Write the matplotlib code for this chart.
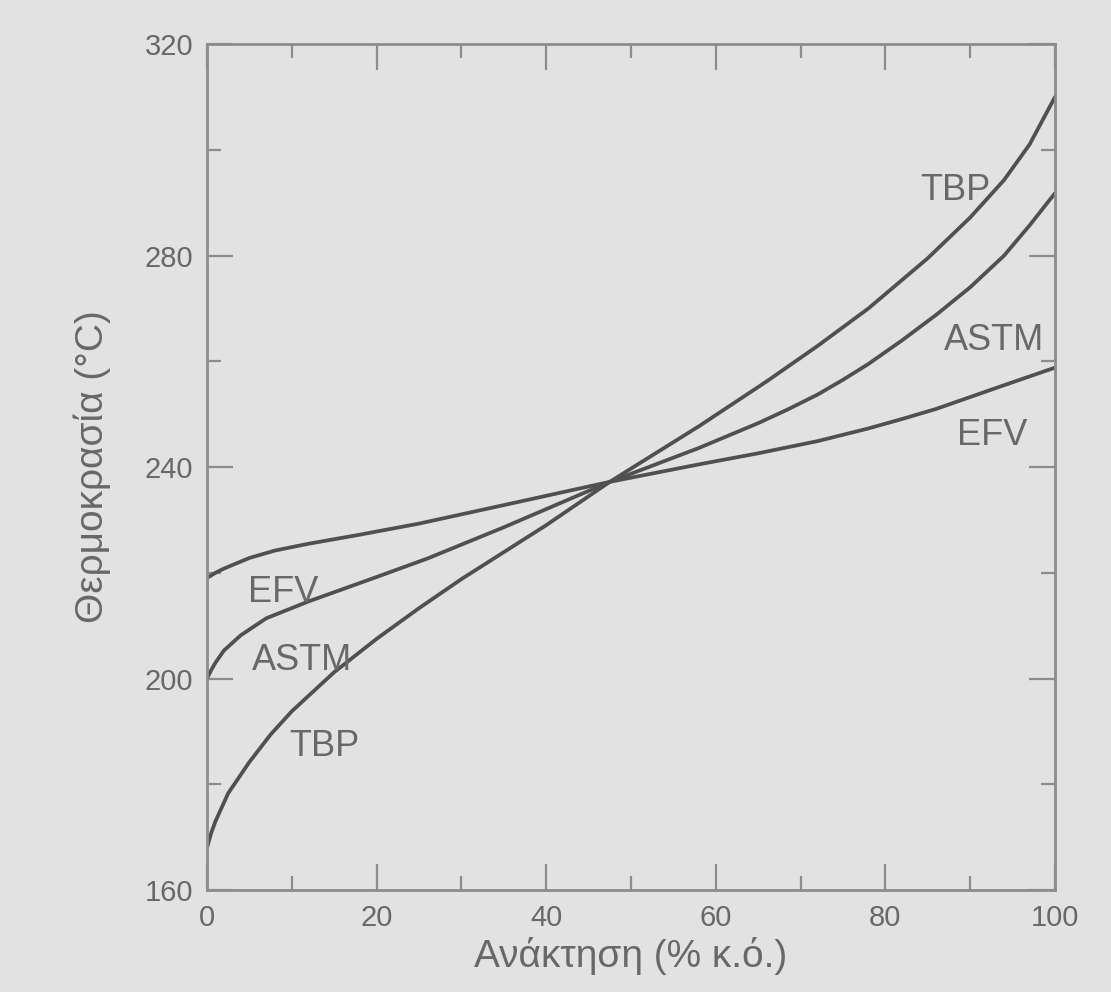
import matplotlib
matplotlib.use("Agg")
import matplotlib.pyplot as plt
from matplotlib.ticker import MultipleLocator

# Distillation curves: recovery (% vol) vs temperature (°C)
x_tbp = [0, 0.5, 1, 2.5, 5, 7.5, 10, 15, 20, 25, 30, 40, 47.5, 58, 66, 72, 78, 85, 90, 94, 97, 100]
t_tbp = [168, 170.8, 173, 178.3, 184.2, 189.4, 193.8, 201.2, 207.5, 213.3, 218.8, 229, 237.2,
         247.7, 256.2, 262.9, 270, 279.5, 287.2, 294.3, 301, 310]

x_astm = [0, 0.5, 1, 2, 4, 7, 12, 20, 26, 35, 47.5, 58, 65, 68.5, 72, 75, 78, 82, 86, 90, 94, 97, 100]
t_astm = [200, 201.6, 203, 205.3, 208.2, 211.4, 214.6, 219.2, 222.7, 228.6, 237.2, 243.6,
          248.3, 250.9, 253.7, 256.5, 259.5, 264, 268.8, 274, 280, 285.7, 291.8]

x_efv = [0, 1, 2, 5, 8, 12, 18, 25, 35, 47.5, 58, 65, 72, 78, 82, 86, 93.5, 100]
t_efv = [219, 220, 220.8, 222.8, 224.2, 225.5, 227.2, 229.3, 232.8, 237.2, 240.5,
         242.6, 244.9, 247.3, 249.1, 251, 255.2, 258.8]

curve_labels = ["TBP", "ASTM", "EFV", "TBP", "ASTM", "EFV"]
label_x = [88.2, 92.8, 92.6, 13.8, 11.2, 9.0]
label_y = [292.3, 264.0, 246.0, 187.2, 203.5, 216.3]

x_ticks = [0, 20, 40, 60, 80, 100]
y_ticks = [160, 200, 240, 280, 320]

bg = "#e2e2e2"
line_col = "#505050"
text_col = "#686868"
spine_col = "#8c8c8c"

plt.rcParams["font.family"] = ["Liberation Sans", "DejaVu Sans"]

fig = plt.figure(figsize=(11.11, 9.92), dpi=100, facecolor=bg)
ax = fig.add_axes([0.1863, 0.1028, 0.7633, 0.8528], facecolor=bg)

for xs, ts in [(x_tbp, t_tbp), (x_astm, t_astm), (x_efv, t_efv)]:
    ax.plot(xs, ts, color=line_col, lw=2.7, solid_capstyle="round", solid_joinstyle="round")

for lab, lx, ly in zip(curve_labels, label_x, label_y):
    ax.text(lx, ly, lab, ha="center", va="center", fontsize=26, color=text_col)

ax.set_xlim(0, 100)
ax.set_ylim(160, 320)
ax.set_xticks(x_ticks)
ax.set_yticks(y_ticks)
ax.xaxis.set_minor_locator(MultipleLocator(10))
ax.yaxis.set_minor_locator(MultipleLocator(20))

ax.tick_params(which="both", direction="in", top=True, right=True, color=spine_col, width=1.6)
ax.tick_params(which="major", length=19, labelsize=21, labelcolor=text_col)
ax.tick_params(which="minor", length=10)
ax.tick_params(axis="x", which="major", pad=10)
ax.tick_params(axis="y", which="major", pad=10)

for sp in ax.spines.values():
    sp.set_color(spine_col)
    sp.set_linewidth(2)

ax.set_xlabel("Ανάκτηση (% κ.ό.)", fontsize=28, color=text_col, labelpad=4)
ax.set_ylabel("Θερμοκρασία (°C)", fontsize=28, color=text_col, labelpad=24)

fig.savefig("out.png", dpi=100, facecolor=bg)
